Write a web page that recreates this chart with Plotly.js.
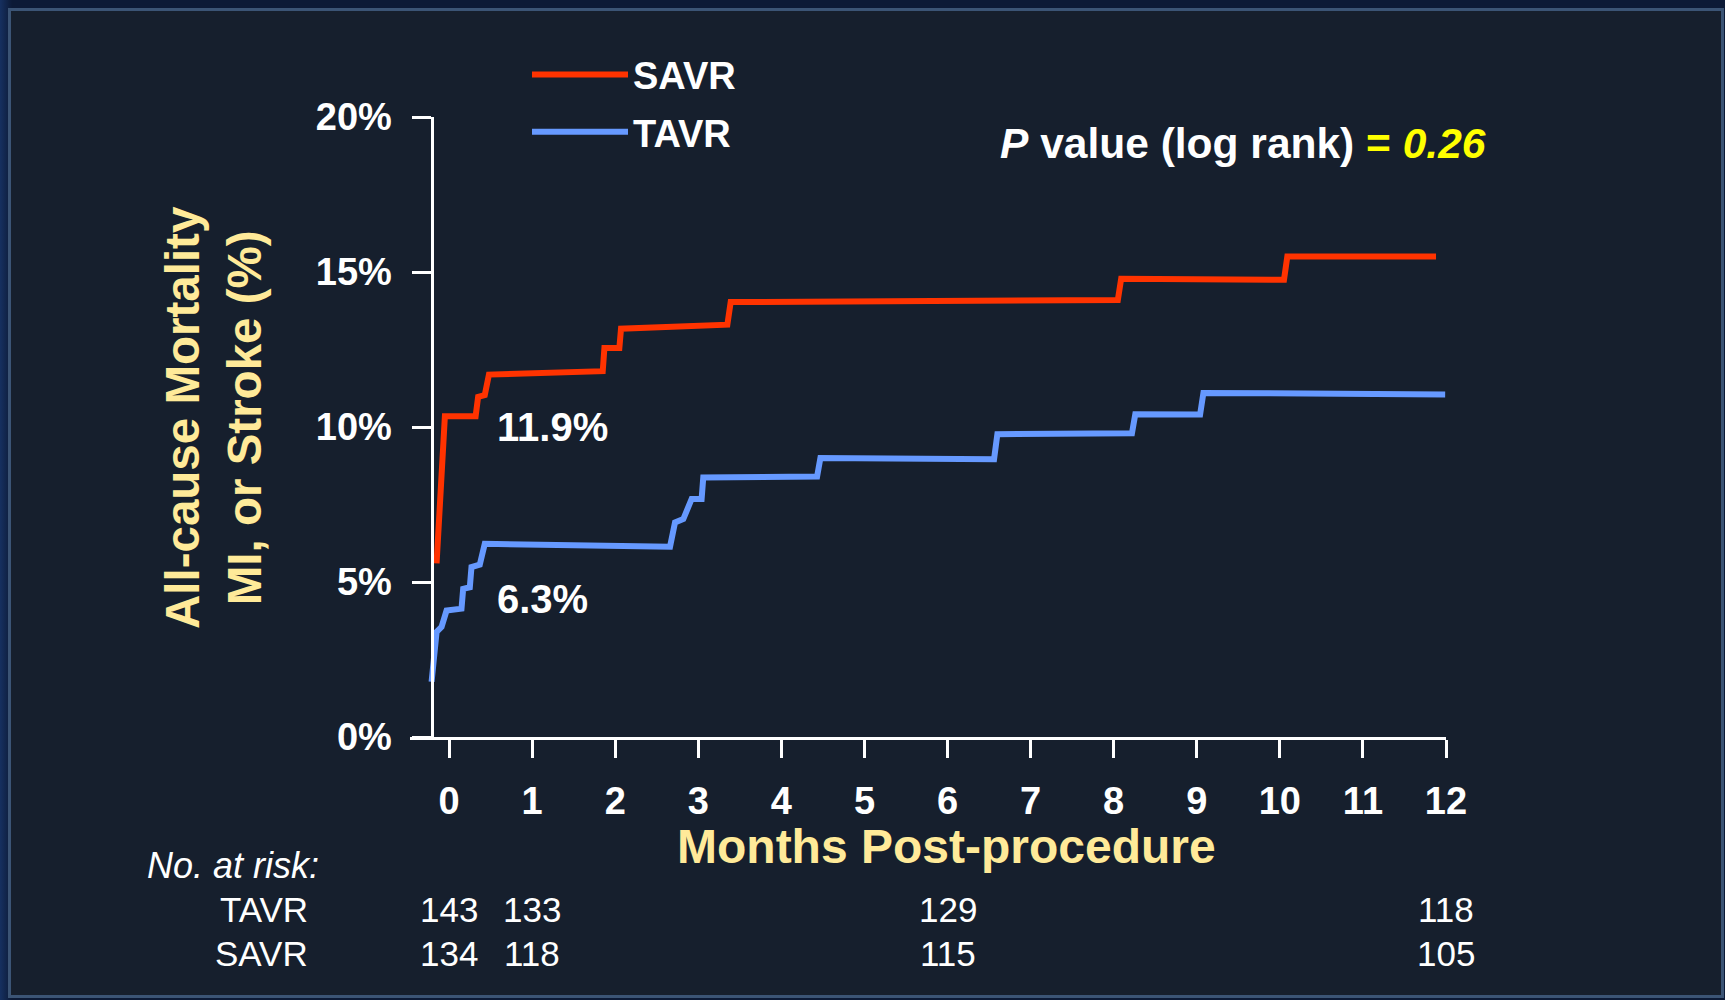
<!DOCTYPE html>
<html>
<head>
<meta charset="utf-8">
<script src="https://cdn.plot.ly/plotly-3.0.1.min.js"></script>
<style>
  html, body { margin: 0; padding: 0; width: 1725px; height: 1000px; overflow: hidden;
    background: linear-gradient(90deg, #163060 0px, #0c1a36 12px, #0c1a36 100%); }
  #panel { position: absolute; left: 8px; top: 8px; width: 1710px; height: 984px;
    border: 3px solid #3b5475; background: #161f2d; }
  #chart { position: absolute; left: 0; top: 0; width: 1725px; height: 1000px; }
</style>
</head>
<body>
<div id="panel"></div>
<div id="chart"></div>
<script>
// ---- data ----
const seriesNames = ['SAVR', 'TAVR'];

const savrMonths = [-0.15, -0.05, 0.32, 0.35, 0.43, 0.48, 1.85, 1.87, 2.05, 2.07, 3.35, 3.39, 8.05, 8.09, 10.05, 10.09, 11.88];
const savrPct    = [5.6, 10.35, 10.35, 10.97, 11.03, 11.69, 11.8, 12.55, 12.55, 13.17, 13.3, 14.03, 14.1, 14.78, 14.75, 15.5, 15.5];

const tavrMonths = [-0.21, -0.15, -0.09, -0.03, 0.15, 0.17, 0.25, 0.27, 0.37, 0.43, 2.66, 2.72, 2.82, 2.92, 3.04, 3.06, 4.43, 4.47, 6.56, 6.6, 8.22, 8.26, 9.04, 9.08, 11.99];
const tavrPct    = [1.78, 3.39, 3.55, 4.08, 4.14, 4.78, 4.83, 5.48, 5.56, 6.23, 6.14, 6.92, 7.03, 7.68, 7.68, 8.37, 8.4, 9.0, 8.96, 9.77, 9.8, 10.41, 10.4, 11.1, 11.05];

const xTickVals = [0, 1, 2, 3, 4, 5, 6, 7, 8, 9, 10, 11, 12];
const yTickVals = [0, 5, 10, 15, 20];
const yTickText = ['0%', '5%', '10%', '15%', '20%'];

const riskMonths = [0, 1, 6, 12];
const tavrRisk = [143, 133, 129, 118];
const savrRisk = [134, 118, 115, 105];

const savrLabels = ['11.9%', '15.7%'];
const tavrLabels = ['6.3%', '11.3%'];
const pValue = '0.26';

const xTitle = 'Months Post-procedure';
const yTitle = 'All-cause Mortality<br>MI, or Stroke (%)';

// ---- styling ----
const FONT = 'Liberation Sans, Arial, Helvetica, sans-serif';
const WHITE = '#ffffff';
const TITLE_YELLOW = '#ffea99';

const traces = [
  { x: savrMonths, y: savrPct, name: seriesNames[0], type: 'scatter', mode: 'lines',
    line: { color: '#ff3300', width: 6 }, legendgroup: 'a', cliponaxis: false },
  { x: tavrMonths, y: tavrPct, name: seriesNames[1], type: 'scatter', mode: 'lines',
    line: { color: '#6699ff', width: 6 }, legendgroup: 'b', cliponaxis: false }
];

const px = X => (X - 410) / 1036;   // page x -> paper x
const py = Y => (737 - Y) / 620;    // page y -> paper y

const bold40 = { family: FONT, size: 40, color: WHITE, weight: 'bold' };
const annotations = [
  { x: 0.55, y: 10.0, xref: 'x', yref: 'y', text: savrLabels[0], showarrow: false, xanchor: 'left', yanchor: 'middle', font: bold40 },
  { x: 12.25, y: 14.0, xref: 'x', yref: 'y', text: savrLabels[1], showarrow: false, xanchor: 'right', yanchor: 'middle', font: bold40 },
  { x: 0.55, y: 4.46, xref: 'x', yref: 'y', text: tavrLabels[0], showarrow: false, xanchor: 'left', yanchor: 'middle', font: bold40 },
  { x: 12.25, y: 9.52, xref: 'x', yref: 'y', text: tavrLabels[1], showarrow: false, xanchor: 'right', yanchor: 'middle', font: bold40 },
  { x: px(1488), y: py(143), xref: 'paper', yref: 'paper', xanchor: 'right', yanchor: 'middle', showarrow: false,
    text: '<i>P</i> value (log rank) <span style="color:#ffff00">= <i>' + pValue + '</i></span>',
    font: { family: FONT, size: 42.5, color: WHITE, weight: 'bold' } },
  { x: px(946), y: py(846), xref: 'paper', yref: 'paper', xanchor: 'center', yanchor: 'middle', showarrow: false,
    text: xTitle, font: { family: FONT, size: 48, color: TITLE_YELLOW, weight: 'bold' } },
  { x: px(213), y: py(418), xref: 'paper', yref: 'paper', xanchor: 'center', yanchor: 'middle', showarrow: false,
    textangle: -90, text: yTitle, font: { family: FONT, size: 47.5, color: TITLE_YELLOW, weight: 'bold' } },
  { x: px(321), y: py(865), xref: 'paper', yref: 'paper', xanchor: 'right', yanchor: 'middle', showarrow: false,
    text: '<i>No. at risk:</i>', font: { family: FONT, size: 36, color: WHITE } },
  { x: px(310), y: py(909), xref: 'paper', yref: 'paper', xanchor: 'right', yanchor: 'middle', showarrow: false,
    text: seriesNames[1], font: { family: FONT, size: 35, color: WHITE } },
  { x: px(310), y: py(953), xref: 'paper', yref: 'paper', xanchor: 'right', yanchor: 'middle', showarrow: false,
    text: seriesNames[0], font: { family: FONT, size: 35, color: WHITE } }
];
riskMonths.forEach((m, i) => {
  annotations.push({ x: m, y: py(909), xref: 'x', yref: 'paper', xanchor: 'center', yanchor: 'middle', showarrow: false,
    text: String(tavrRisk[i]), font: { family: FONT, size: 35, color: WHITE } });
  annotations.push({ x: m, y: py(953), xref: 'x', yref: 'paper', xanchor: 'center', yanchor: 'middle', showarrow: false,
    text: String(savrRisk[i]), font: { family: FONT, size: 35, color: WHITE } });
});

const layout = {
  width: 1725, height: 1000,
  paper_bgcolor: 'rgba(0,0,0,0)', plot_bgcolor: 'rgba(0,0,0,0)',
  margin: { l: 410, r: 279, t: 117, b: 263, pad: 0 },
  font: { family: FONT, color: WHITE },
  showlegend: true,
  legend: { x: px(527), y: 1.119, xanchor: 'left', yanchor: 'top', bgcolor: 'rgba(0,0,0,0)',
    font: { family: FONT, size: 38, color: WHITE, weight: 'bold' }, tracegroupgap: 5, itemwidth: 96 },
  xaxis: {
    range: [-0.47, 12], showgrid: false, zeroline: false,
    showline: true, linecolor: WHITE, linewidth: 3,
    ticks: 'outside', ticklen: 18, tickwidth: 3, tickcolor: WHITE,
    tickvals: xTickVals, ticklabelstandoff: 10,
    tickfont: { family: FONT, size: 38, color: WHITE, weight: 'bold' }
  },
  yaxis: {
    range: [0, 20], anchor: 'free', position: (431.5 - 410) / 1036,
    showgrid: false, zeroline: false,
    showline: true, linecolor: WHITE, linewidth: 3,
    ticks: 'outside', ticklen: 19, tickwidth: 3, tickcolor: WHITE,
    tickvals: yTickVals, ticktext: yTickText, ticklabelstandoff: 12,
    tickfont: { family: FONT, size: 38, color: WHITE, weight: 'bold' }
  },
  annotations: annotations
};

Plotly.newPlot('chart', traces, layout, { staticPlot: true, displayModeBar: false });
</script>
</body>
</html>
